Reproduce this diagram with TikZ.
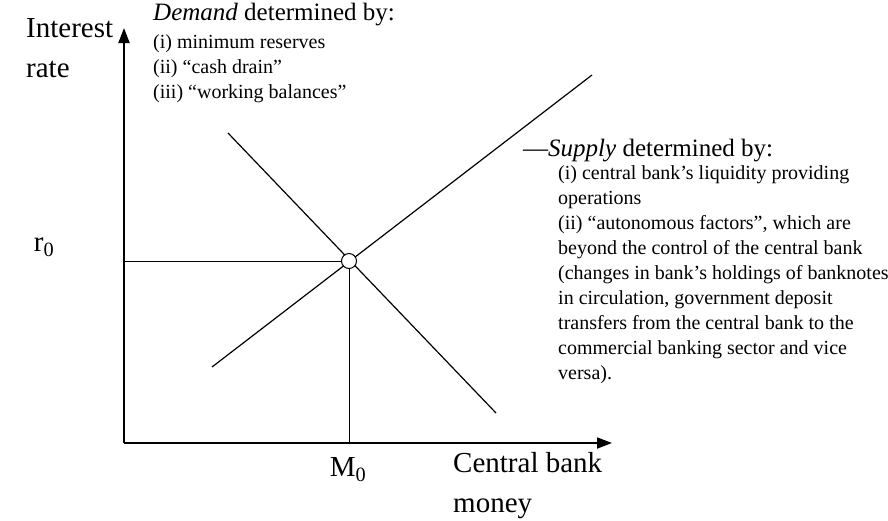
\documentclass[tikz,border=0pt]{standalone}
\usepackage{fontspec}
\setmainfont{Liberation Serif}
\usetikzlibrary{arrows.meta,positioning}

\begin{document}
\begin{tikzpicture}[x=1pt,y=-1pt,
    axis/.style={line width=1.8pt,-{Triangle[length=15pt,width=11pt]}},
    curve/.style={line width=1.2pt},
    guide/.style={line width=0.6pt},
    big/.style={font=\fontsize{29}{40}\selectfont,inner sep=0pt},
    head/.style={font=\fontsize{25}{29}\selectfont,inner sep=0pt,anchor=north west},
    small/.style={font=\fontsize{20}{25}\selectfont,inner sep=0pt,anchor=north west,align=left}]
        \useasboundingbox (0,0) rectangle (888,520);
        % axes
        \coordinate (O) at (124,443);
        \draw[axis] (O)--(124,28);
        \draw[axis] (O)--(612,443);
        % demand and supply
        \draw[curve] (228,133)--(496,413);
        \draw[curve] (212,367)--(592,75);
        \node[draw,circle,fill=white,line width=1pt,minimum size=15pt,inner sep=0pt] (eq) at (349,261){};
        \draw[guide] (124,261)--(eq.west);
        \draw[guide] (eq.south)--(349,443);
        % labels
        \node[big,anchor=north west,align=left] (yl) at (26,18){Interest\\rate};
        \node[big] (r0) at (44,247){r\textsubscript{0}};
        \node[big] (m0) at (348,470){M\textsubscript{0}};
        \node[big,anchor=north west,align=left] (xl) at (453,452){Central bank\\money};
        \node[head] (dhead) at (153,3){\textit{Demand} determined by:};
        \node[small,below=8pt of dhead.south west,anchor=north west] (dlist){(i) minimum reserves\\(ii) ``cash drain''\\(iii) ``working balances''};
        \node[head] (shead) at (523,139){---\textit{Supply} determined by:};
        \node[small] (slist) at (558,165){(i) central bank's liquidity providing\\operations\\(ii) ``autonomous factors'', which are\\beyond the control of the central bank\\(changes in bank's holdings of banknotes\\in circulation, government deposit\\transfers from the central bank to the\\commercial banking sector and vice\\versa).};
\end{tikzpicture}
\end{document}
